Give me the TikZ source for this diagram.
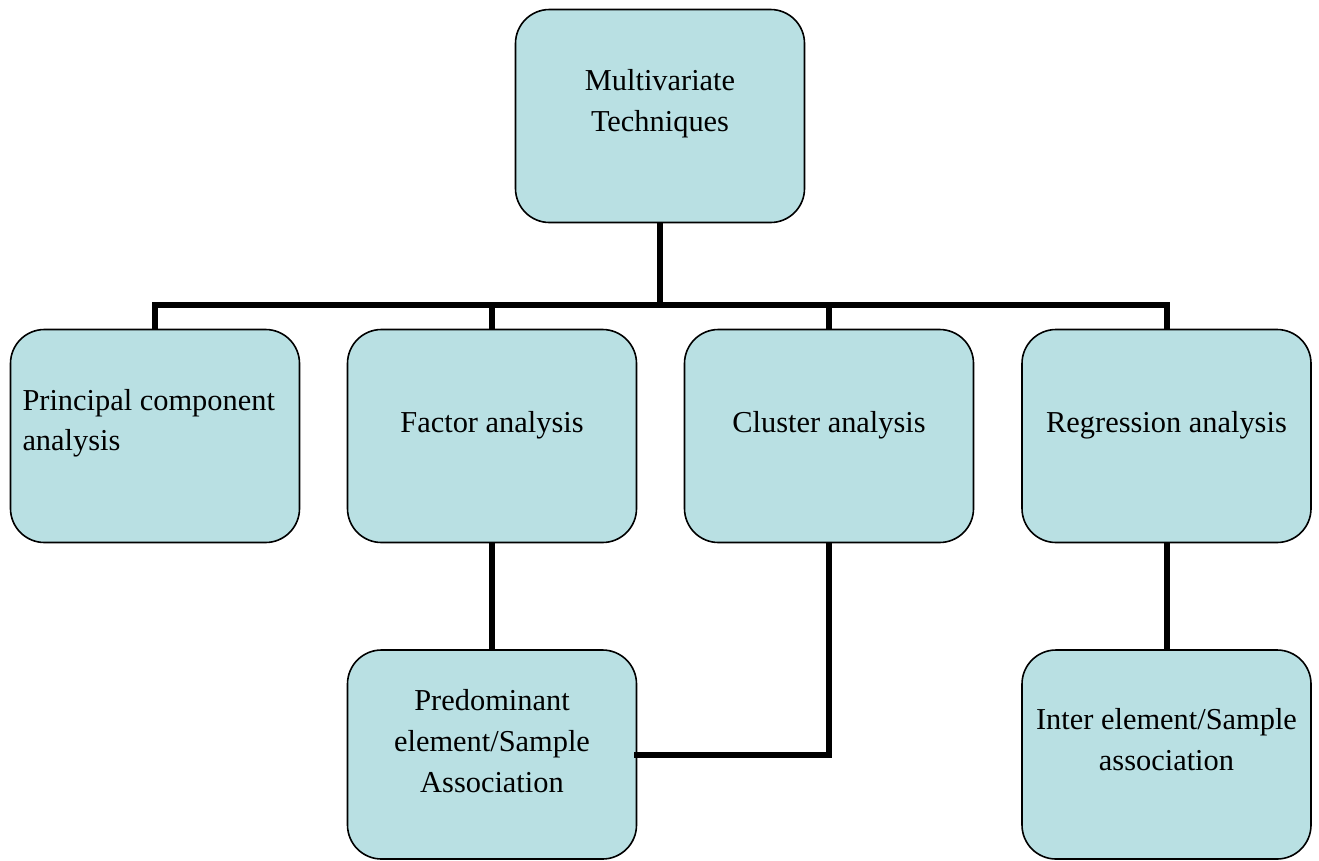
\documentclass[tikz,border=0pt]{standalone}
\usepackage{fontspec}
\setmainfont{Liberation Serif}
\definecolor{boxfill}{RGB}{185,224,227}
\begin{document}
\begin{tikzpicture}[x=1pt,y=-1pt,
  box/.style={draw=black, line width=1.6pt, fill=boxfill, rounded corners=34pt,
    inner sep=0pt, outer sep=0pt, minimum width=289pt, minimum height=213pt},
  lbl/.style={inner sep=0pt, outer sep=0pt, align=center,
    font=\fontsize{30.4}{41}\selectfont},
  conn/.style={draw=black, line width=6pt}]
\useasboundingbox (0,0) rectangle (1319,860);
\fill[white] (0,0) rectangle (1319,860);
% boxes
\node[box] (top) at (660,116) {};
\node[box] (pca) at (155,436) {};
\node[box] (fa)  at (492,436) {};
\node[box] (ca)  at (829,436) {};
\node[box] (ra)  at (1166.5,436) {};
\node[box, minimum height=209pt] (pd) at (492,754.5) {};
\node[box, minimum height=209pt] (ie) at (1166.5,754.5) {};
% labels (base anchor = baseline of the last line)
\node[lbl, anchor=base] (ttop) at (660,131.7) {Multivariate\\Techniques};
\node[lbl, anchor=base west, align=left, font=\fontsize{30.4}{40}\selectfont] (tpca) at (22.5,450.7) {Principal component\\analysis};
\node[lbl, anchor=base] (tfa) at (492,432.7) {Factor analysis};
\node[lbl, anchor=base] (tca) at (829,432) {Cluster analysis};
\node[lbl, anchor=base] (tra) at (1166.5,432.7) {Regression analysis};
\node[lbl, anchor=base] (tpd) at (492,792) {Predominant\\element/Sample\\Association};
\node[lbl, anchor=base] (tie) at (1166.5,770) {Inter element/Sample\\association};
% connectors
\coordinate (bus) at (0,305.3);
\draw[conn] (top.south) -- (top.south |- bus);
\draw[conn] (pca.north) -- (pca.north |- bus) -- (ra.north |- bus) -- (ra.north);
\draw[conn] (fa.north |- bus) -- (fa.north);
\draw[conn] (ca.north |- bus) -- (ca.north);
\draw[conn] (fa.south) -- (pd.north);
\draw[conn] (ca.south) |- ([xshift=-3pt]pd.east);
\draw[conn] (ra.south) -- (ie.north);
\end{tikzpicture}
\end{document}
